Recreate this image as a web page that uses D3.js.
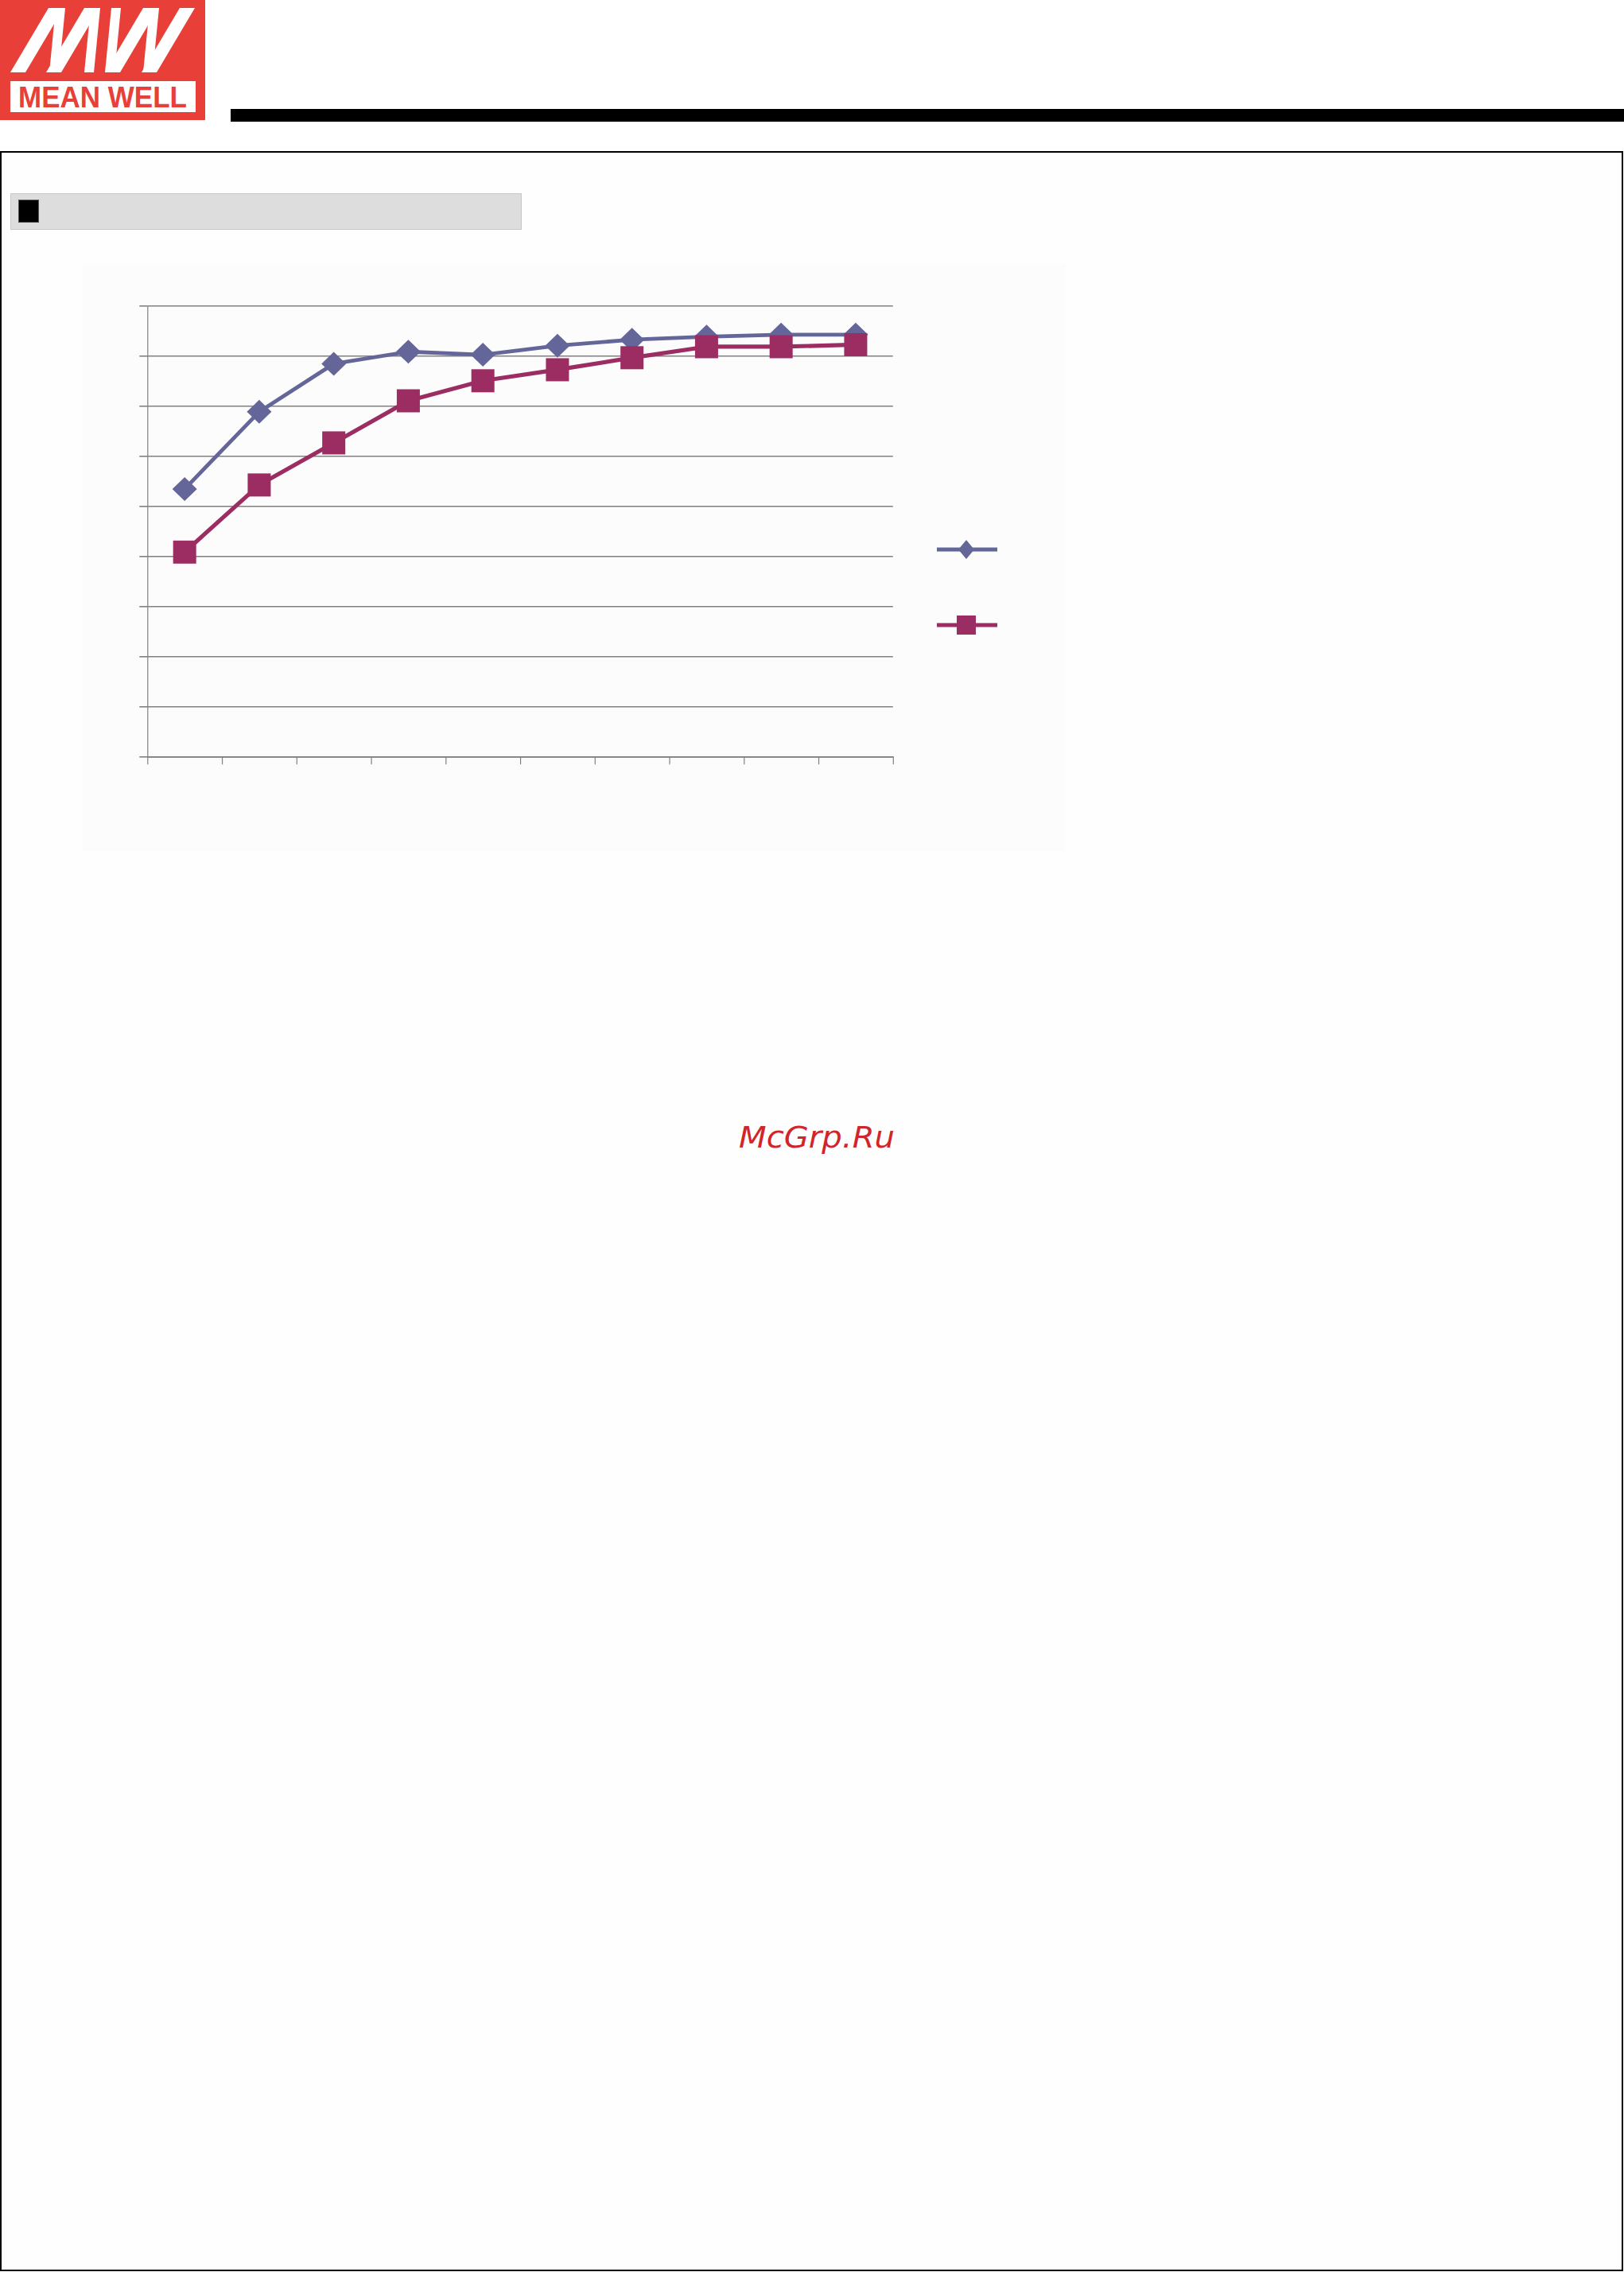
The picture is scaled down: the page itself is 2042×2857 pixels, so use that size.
<!DOCTYPE html>
<html>
<head>
<meta charset="utf-8">
<script src="https://cdn.jsdelivr.net/npm/d3@7/dist/d3.min.js"></script>
<style>
  html, body { margin: 0; padding: 0; background: #ffffff; }
  svg { display: block; }
</style>
</head>
<body>
<svg id="page" width="2042" height="2857"></svg>
<script>
// ---------------- data ----------------
const loadCategories = ["10%", "20%", "30%", "40%", "50%", "60%", "70%", "80%", "90%", "100%"];
const yTickValues = [50, 55, 60, 65, 70, 75, 80, 85, 90, 95];
const seriesNames = ["230VAC", "115VAC"];
const efficiency230 = [76.7, 84.4, 89.2, 90.4, 90.1, 91.0, 91.6, 91.9, 92.1, 92.1];
const efficiency115 = [70.4, 77.1, 81.3, 85.5, 87.5, 88.6, 89.8, 90.9, 90.9, 91.1];

// ---------------- page ----------------
const svg = d3.select("#page");
const RED = "#e84038";

// logo
const logo = svg.append("g");
logo.append("rect").attr("x", 0).attr("y", 0).attr("width", 258).attr("height", 151).attr("fill", RED);
function slash(x0) { // "/" stroke: bottom x0..x0+19 at y=91, top x0+48..x0+67 at y=10
  return [[x0, 91], [x0 + 48, 10], [x0 + 67, 10], [x0 + 19, 91]];
}
function bar(x1) { // near-vertical stroke: top x1..x1+12, bottom x1-8..x1+4
  return [[x1, 10], [x1 + 12, 10], [x1 + 4, 91], [x1 - 8, 91]];
}
const mwShapes = [slash(13), bar(70), slash(58), bar(114), bar(140), slash(132), bar(188), slash(178)];
logo.selectAll("polygon.mw").data(mwShapes).join("polygon")
  .attr("class", "mw")
  .attr("points", d => d.map(p => p.join(",")).join(" "))
  .attr("fill", "#ffffff");
logo.append("rect").attr("x", 13).attr("y", 102).attr("width", 233).attr("height", 39).attr("fill", "#ffffff");
logo.append("text").attr("x", 23).attr("y", 135)
  .attr("font-family", "Liberation Sans, Arial, sans-serif").attr("font-weight", "bold")
  .attr("font-size", 37).attr("fill", RED)
  .attr("textLength", 212).attr("lengthAdjust", "spacingAndGlyphs")
  .text("MEAN WELL");

// header bar
svg.append("rect").attr("x", 290).attr("y", 137).attr("width", 1752).attr("height", 16).attr("fill", "#000");

// frame
svg.append("rect").attr("x", 1).attr("y", 191).attr("width", 2039).attr("height", 2664)
  .attr("fill", "#fefefe").attr("stroke", "#000").attr("stroke-width", 2);

// section bar
svg.append("rect").attr("x", 13.5).attr("y", 243.5).attr("width", 642).attr("height", 45)
  .attr("fill", "#dcdddc").attr("stroke", "#c8c8c8").attr("stroke-width", 1);
svg.append("rect").attr("x", 23.5).attr("y", 251.5).attr("width", 25).attr("height", 28)
  .attr("fill", "#000").attr("stroke", "#555").attr("stroke-width", 1);

// chart panel
svg.append("rect").attr("x", 104).attr("y", 331).attr("width", 1236).attr("height", 739).attr("fill", "#fcfcfc");

// ---------------- chart ----------------
const plot = { left: 185.3, right: 1122.8, top: 384.3, bottom: 951.3 };
const x = d3.scaleBand().domain(loadCategories).range([plot.left, plot.right]).padding(0);
const xEdges = d3.scaleLinear().domain([0, loadCategories.length]).range([plot.left, plot.right]);
const y = d3.scaleLinear().domain([yTickValues[0], yTickValues[yTickValues.length - 1]]).range([plot.bottom, plot.top]);
const GRID = "#808080";

// gridlines
const grid = svg.append("g").attr("transform", `translate(${plot.left},0)`)
  .call(d3.axisLeft(y).tickValues(yTickValues).tickSize(-(plot.right - plot.left)).tickFormat(""));
grid.select(".domain").remove();
grid.selectAll("line").attr("stroke", GRID).attr("stroke-width", 1.6);

// y axis
const yAxis = svg.append("g").attr("transform", `translate(${plot.left},0)`)
  .call(d3.axisLeft(y).tickValues(yTickValues).tickSize(10).tickSizeOuter(0).tickFormat(""));
yAxis.select(".domain").attr("stroke", GRID).attr("stroke-width", 1.2);
yAxis.selectAll("line").attr("stroke", GRID).attr("stroke-width", 1.6);

// x axis
const xAxis = svg.append("g").attr("transform", `translate(0,${plot.bottom})`)
  .call(d3.axisBottom(xEdges).tickValues(d3.range(0, loadCategories.length + 1)).tickSize(10).tickSizeOuter(0).tickFormat(""));
xAxis.select(".domain").attr("stroke", GRID).attr("stroke-width", 1.8);
xAxis.selectAll("line").attr("stroke", GRID).attr("stroke-width", 1.2);

const cx = c => x(c) + x.bandwidth() / 2;
const lineGen = vals => d3.line().x((d, i) => cx(loadCategories[i])).y(d => y(d))(vals);

const BLUE = "#646699", MAROON = "#9c2d62";
const diamond = (w, h) => `M0,${-h}L${w},0L0,${h}L${-w},0Z`;

// 115 series (maroon squares)
svg.append("path").attr("d", lineGen(efficiency115)).attr("fill", "none")
  .attr("stroke", MAROON).attr("stroke-width", 5.2).attr("stroke-linejoin", "round");
// 230 series (blue diamonds)
svg.append("path").attr("d", lineGen(efficiency230)).attr("fill", "none")
  .attr("stroke", BLUE).attr("stroke-width", 4.8).attr("stroke-linejoin", "round");

svg.selectAll("path.dia").data(efficiency230).join("path")
  .attr("class", "dia")
  .attr("d", diamond(15.5, 15))
  .attr("transform", (d, i) => `translate(${cx(loadCategories[i])},${y(d)})`)
  .attr("fill", BLUE);

svg.selectAll("rect.sq").data(efficiency115).join("rect")
  .attr("class", "sq")
  .attr("x", (d, i) => cx(loadCategories[i]) - 14.5)
  .attr("y", d => y(d) - 14.5)
  .attr("width", 29).attr("height", 29)
  .attr("fill", MAROON);

// legend (symbols only, as in the reference)
const legend = svg.append("g");
const legendItems = [
  { name: seriesNames[0], color: BLUE, yPos: 691, shape: "diamond" },
  { name: seriesNames[1], color: MAROON, yPos: 786, shape: "square" }
];
legendItems.forEach(it => {
  legend.append("line").attr("x1", 1178).attr("x2", 1254).attr("y1", it.yPos).attr("y2", it.yPos)
    .attr("stroke", it.color).attr("stroke-width", 5);
  if (it.shape === "diamond") {
    legend.append("path").attr("d", diamond(10, 12)).attr("transform", `translate(1215,${it.yPos})`).attr("fill", it.color);
  } else {
    legend.append("rect").attr("x", 1203).attr("y", it.yPos - 12).attr("width", 24).attr("height", 24).attr("fill", it.color);
  }
});

// watermark
svg.append("text").attr("x", 929).attr("y", 1442.5)
  .attr("font-family", "DejaVu Sans, sans-serif").attr("font-style", "italic")
  .attr("font-size", 38).attr("fill", "#d0262b")
  .attr("textLength", 196).attr("lengthAdjust", "spacingAndGlyphs")
  .text("McGrp.Ru");
</script>
</body>
</html>
